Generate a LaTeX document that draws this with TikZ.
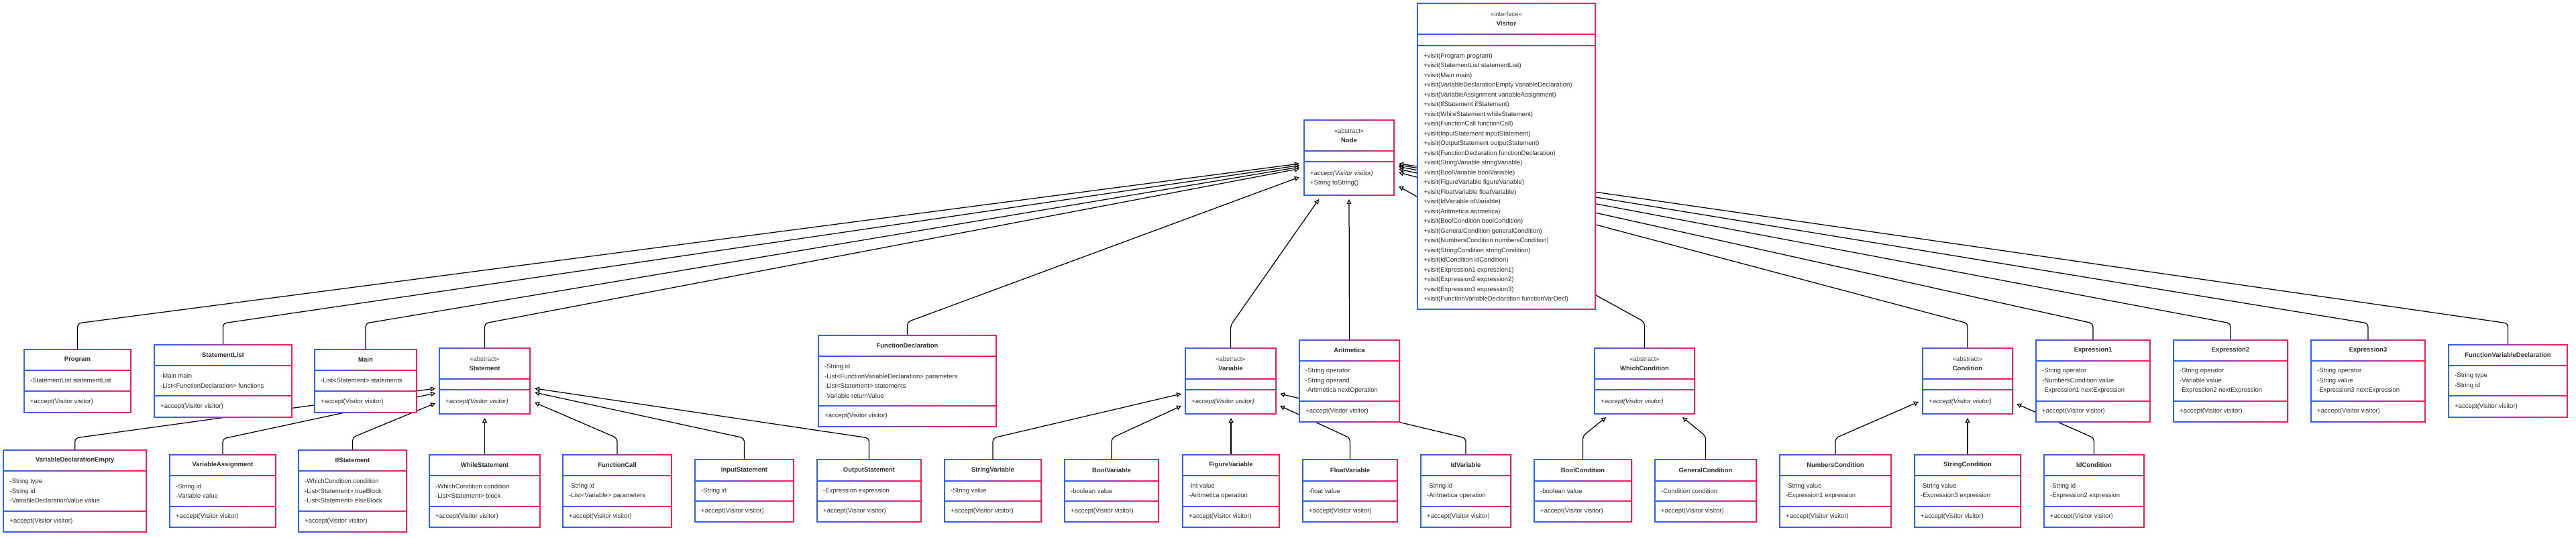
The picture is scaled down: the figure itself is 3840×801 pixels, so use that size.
\documentclass[tikz,border=0pt]{standalone}
\usepackage{fontspec}
\setmainfont{Liberation Sans}
\usetikzlibrary{arrows.meta}
\definecolor{cblue}{HTML}{2962FF}
\definecolor{cred}{HTML}{FF1A4D}
\definecolor{txtc}{HTML}{2B2B2B}
\definecolor{sterc}{HTML}{444444}
\pgfdeclarelayer{bgw}\pgfdeclarelayer{lines}\pgfsetlayers{bgw,lines,main}
\newcommand\fs{\fontsize{9.5}{14.5}\selectfont}
\tikzset{
  ttltxt/.style={font=\fs\bfseries, text=txtc, inner sep=0, anchor=center, align=center},
  attrtxt/.style={font=\fs, text=txtc, inner sep=0, anchor=west, align=left},
  gen/.style={draw=black, line width=1.25pt, rounded corners=5pt, -{Triangle[length=7pt,width=7pt,fill=white]}},
}
% name, x1, x2, y1, d1, d2, y2
\newcommand\ubox[7]{%
  \shade[left color=cblue,right color=cred] (#2-0.9,#4-0.9) rectangle (#3+0.9,#7+0.9);
  \fill[white] (#2+0.9,#4+0.9) rectangle (#3-0.9,#7-0.9);
  \shade[left color=cblue,right color=cred] (#2,#5-0.8) rectangle (#3,#5+0.8);
  \shade[left color=cblue,right color=cred] (#2,#6-0.8) rectangle (#3,#6+0.8);
  \pgfmathsetmacro\bw{#3-#2}\pgfmathsetmacro\bh{#7-#4}%
  \node[inner sep=0,outer sep=0,minimum width=\bw pt,minimum height=\bh pt] (#1) at ({(#2+#3)/2},{(#4+#7)/2}) {};
  \coordinate (#1-h) at ({(#2+#3)/2},{(#4+#5)/2});
  \coordinate (#1-a) at (#2+9,{(#5+#6)/2});
  \coordinate (#1-m) at (#2+9,{(#6+#7)/2});
}
\newcommand\cls[9]{%
  \ubox{#1}{#2}{#3}{#4}{#5}{#6}{#7}
  \node[ttltxt] at (#1-h) {#8};
  \node[attrtxt] at (#1-a) {#9};
  \node[attrtxt] at (#1-m) {+accept(Visitor visitor)};
}
\newcommand\acls[8]{%
  \ubox{#1}{#2}{#3}{#4}{#5}{#6}{#7}
  \node[ttltxt] at (#1-h) {{\mdseries\color{sterc}«abstract»}\\#8};
  \node[attrtxt] at (#1-m) {+\textit{accept(Visitor visitor)}};
}
\begin{document}
\begin{tikzpicture}[x=1pt,y=-1pt]
\useasboundingbox (0,0) rectangle (3840,801);
\begin{pgfonlayer}{bgw}
\fill[white] (0,0) rectangle (3840,801);
\end{pgfonlayer}

% ---- central classes
\ubox{Node}{1944}{2078}{179}{225}{241}{291}
\node[ttltxt] at (Node-h) {{\mdseries\color{sterc}«abstract»}\\Node};
\node[attrtxt] at (Node-m) {+\textit{accept(Visitor visitor)}\\+String toString()};

\ubox{Visitor}{2113}{2378}{5}{51}{68}{461}
\node[ttltxt] at (Visitor-h) {{\mdseries\color{sterc}«interface»}\\Visitor};
\node[attrtxt] at (2122,265) {+visit(Program program)\\
+visit(StatementList statementList)\\
+visit(Main main)\\
+visit(VariableDeclarationEmpty variableDeclaration)\\
+visit(VariableAssignment variableAssignment)\\
+visit(IfStatement ifStatement)\\
+visit(WhileStatement whileStatement)\\
+visit(FunctionCall functionCall)\\
+visit(InputStatement inputStatement)\\
+visit(OutputStatement outputStatement)\\
+visit(FunctionDeclaration functionDeclaration)\\
+visit(StringVariable stringVariable)\\
+visit(BoolVariable boolVariable)\\
+visit(FigureVariable figureVariable)\\
+visit(FloatVariable floatVariable)\\
+visit(IdVariable idVariable)\\
+visit(Aritmetica aritmetica)\\
+visit(BoolCondition boolCondition)\\
+visit(GeneralCondition generalCondition)\\
+visit(NumbersCondition numbersCondition)\\
+visit(StringCondition stringCondition)\\
+visit(IdCondition idCondition)\\
+visit(Expression1 expression1)\\
+visit(Expression2 expression2)\\
+visit(Expression3 expression3)\\
+visit(FunctionVariableDeclaration functionVarDecl)};

% ---- upper row
\cls{Program}{36}{195}{521}{552}{583}{615}{Program}{-StatementList statementList}
\cls{StatementList}{230}{435}{514}{545}{590}{622}{StatementList}{-Main main\\-List<FunctionDeclaration> functions}
\cls{Main}{469}{621}{521}{552}{583}{615}{Main}{-List<Statement> statements}
\acls{Statement}{655}{790}{519}{565}{581}{617}{Statement}
\cls{FunctionDeclaration}{1220}{1485}{500}{531}{605}{636}{FunctionDeclaration}{-String id\\-List<FunctionVariableDeclaration> parameters\\-List<Statement> statements\\-Variable returnValue}
\acls{Variable}{1767}{1902}{519}{565}{581}{617}{Variable}
\cls{Aritmetica}{1937}{2086}{507}{538}{598}{629}{Aritmetica}{-String operator\\-String operand\\-Aritmetica nextOperation}
\acls{WhichCondition}{2377}{2526}{519}{565}{581}{617}{WhichCondition}
\acls{Condition}{2866}{3000}{519}{565}{581}{617}{Condition}
\cls{ExprA}{3035}{3205}{507}{538}{598}{629}{Expression1}{-String operator\\-NumbersCondition value\\-Expression1 nextExpression}
\cls{ExprB}{3240}{3410}{507}{538}{598}{629}{Expression2}{-String operator\\-Variable value\\-Expression2 nextExpression}
\cls{ExprC}{3445}{3615}{507}{538}{598}{629}{Expression3}{-String operator\\-String value\\-Expression3 nextExpression}
\cls{FVD}{3650}{3827}{514}{545}{590}{622}{FunctionVariableDeclaration}{-String type\\-String id}

% ---- lower row
\cls{VDE}{5.5}{218}{671}{702}{762}{793}{VariableDeclarationEmpty}{-String type\\-String id\\-VariableDeclarationValue value}
\cls{VA}{253}{411}{678}{709}{755}{786}{VariableAssignment}{-String id\\-Variable value}
\cls{IfS}{445}{606}{671}{702}{762}{793}{IfStatement}{-WhichCondition condition\\-List<Statement> trueBlock\\-List<Statement> elseBlock}
\cls{WhileS}{640}{805}{678}{709}{755}{786}{WhileStatement}{-WhichCondition condition\\-List<Statement> block}
\cls{FCall}{839}{1001}{678}{709}{755}{786}{FunctionCall}{-String id\\-List<Variable> parameters}
\cls{InS}{1036}{1183}{685}{717}{747}{778}{InputStatement}{-String id}
\cls{OutS}{1218}{1373}{685}{717}{747}{778}{OutputStatement}{-Expression expression}
\cls{StrV}{1408}{1552}{685}{717}{747}{778}{StringVariable}{-String value}
\cls{BoolV}{1587}{1727}{685}{717}{747}{778}{BoolVariable}{-boolean value}
\cls{FigV}{1763}{1907}{678}{709}{755}{786}{FigureVariable}{-int value\\-Aritmetica operation}
\cls{FloatV}{1942}{2083}{685}{717}{747}{778}{FloatVariable}{-float value}
\cls{IdV}{2118}{2252}{678}{709}{755}{786}{IdVariable}{-String id\\-Aritmetica operation}
\cls{BoolC}{2287}{2432}{685}{717}{747}{778}{BoolCondition}{-boolean value}
\cls{GenC}{2467}{2618}{685}{717}{747}{778}{GeneralCondition}{-Condition condition}
\cls{NumC}{2653}{2819}{678}{709}{755}{786}{NumbersCondition}{-String value\\-Expression1 expression}
\cls{StrC}{2854}{3012}{678}{709}{755}{786}{StringCondition}{-String value\\-Expression3 expression}
\cls{IdC}{3047}{3196}{678}{709}{755}{786}{IdCondition}{-String id\\-Expression2 expression}

% ---- arrow tip coordinates
\coordinate (nL1) at (1937,244);
\coordinate (nL2) at (1937,246.5);
\coordinate (nL3) at (1937,249);
\coordinate (nL4) at (1937,251.5);
\coordinate (nL5) at (1937,264);
\coordinate (nB1) at (1966,297);
\coordinate (nB2) at (2011,297);
\coordinate (nR0) at (2085,278);
\coordinate (nR1) at (2085,257);
\coordinate (nR2) at (2085,252);
\coordinate (nR3) at (2085,248.5);
\coordinate (nR4) at (2085,246);
\coordinate (nR5) at (2085,244);
\coordinate (sL1) at (649,579);
\coordinate (sL2) at (649,586);
\coordinate (sL3) at (649,601);
\coordinate (sB) at (722.5,623);
\coordinate (sR1) at (797,600);
\coordinate (sR2) at (797,585);
\coordinate (sR3) at (797,579);
\coordinate (vL1) at (1761,587);
\coordinate (vL2) at (1761,605);
\coordinate (vB) at (1835,623);
\coordinate (vR1) at (1908,605);
\coordinate (vR2) at (1908,587);
\coordinate (wB1) at (2394,622);
\coordinate (wB2) at (2508,622);
\coordinate (cL) at (2860,599);
\coordinate (cB) at (2933,623);
\coordinate (cR) at (3006,602);

\begin{pgfonlayer}{lines}
% to Node
\draw[gen] (Program.north) -- (Program.north |- 0,482) -- (nL1);
\draw[gen] (StatementList.north) -- (StatementList.north |- 0,482) -- (nL2);
\draw[gen] (Main.north) -- (Main.north |- 0,482) -- (nL3);
\draw[gen] (Statement.north) -- (Statement.north |- 0,482) -- (nL4);
\draw[gen] (FunctionDeclaration.north) -- (FunctionDeclaration.north |- 0,480) -- (nL5);
\draw[gen] (Variable.north) -- (Variable.north |- 0,485) -- (nB1);
\draw[gen] (Aritmetica.north) -- (nB2);
\draw[gen] (WhichCondition.north) -- (WhichCondition.north |- 0,480) -- (nR0);
\draw[gen] (Condition.north) -- (Condition.north |- 0,482) -- (nR1);
\draw[gen] (ExprA.north) -- (ExprA.north |- 0,482) -- (nR2);
\draw[gen] (ExprB.north) -- (ExprB.north |- 0,482) -- (nR3);
\draw[gen] (ExprC.north) -- (ExprC.north |- 0,482) -- (nR4);
\draw[gen] (FVD.north) -- (FVD.north |- 0,482) -- (nR5);
% to Statement
\draw[gen] (VDE.north) -- (VDE.north |- 0,653) -- (sL1);
\draw[gen] (VA.north) -- (VA.north |- 0,654) -- (sL2);
\draw[gen] (IfS.north) -- (IfS.north |- 0,652) -- (sL3);
\draw[gen] (WhileS.north) -- (sB);
\draw[gen] (FCall.north) -- (FCall.north |- 0,653) -- (sR1);
\draw[gen] (InS.north) -- (InS.north |- 0,653) -- (sR2);
\draw[gen] (OutS.north) -- (OutS.north |- 0,653) -- (sR3);
% to Variable
\draw[gen] (StrV.north) -- (StrV.north |- 0,653) -- (vL1);
\draw[gen] (BoolV.north) -- (BoolV.north |- 0,653) -- (vL2);
\draw[gen] (FigV.north) -- (vB);
\draw[gen] (FloatV.north) -- (FloatV.north |- 0,653) -- (vR1);
\draw[gen] (IdV.north) -- (IdV.north |- 0,653) -- (vR2);
% to WhichCondition
\draw[gen] (BoolC.north) -- (BoolC.north |- 0,650) -- (wB1);
\draw[gen] (GenC.north) -- (GenC.north |- 0,650) -- (wB2);
% to Condition
\draw[gen] (NumC.north) -- (NumC.north |- 0,653) -- (cL);
\draw[gen] (StrC.north) -- (cB);
\draw[gen] (IdC.north) -- (IdC.north |- 0,653) -- (cR);
\end{pgfonlayer}
\end{tikzpicture}
\end{document}
